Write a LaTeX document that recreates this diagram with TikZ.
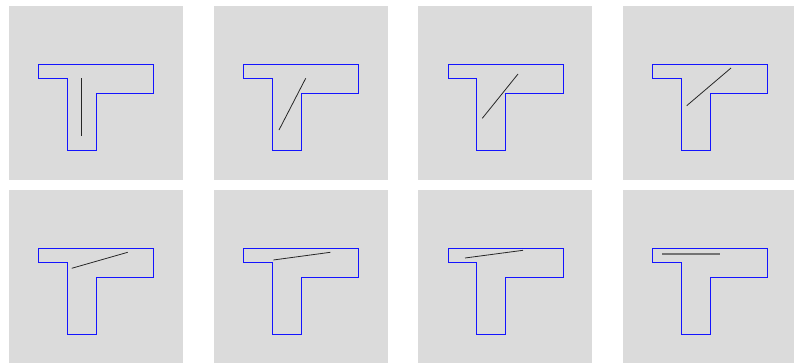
\documentclass[tikz,border=0pt]{standalone}
\definecolor{panelgray}{RGB}{219,219,219}
\definecolor{tblue}{RGB}{20,20,255}
\definecolor{rodgray}{RGB}{115,115,115}
\tikzset{
  panelbox/.style={fill=panelgray, draw=none},
  tee/.style={draw=tblue, line width=1pt, line join=miter},
  rod/.style={draw=black!85, line width=0.8pt},
  flatrod/.style={draw=rodgray, line width=1.6pt}
}
\begin{document}
\begin{tikzpicture}[x=1pt,y=-1pt]
\useasboundingbox (0,0) rectangle (794,362);
\foreach \ox/\oy/\ax/\ay/\bx/\by/\st in {
  9/6/72.3/72.3/72.3/130.3/rod,
  213.7/6/92/72.3/65.3/124/rod,
  418.3/6/99.7/68/64/112.3/rod,
  623/6/108/62/63.7/99.7/rod,
  9/190/118.7/62.3/62.7/78.3/rod,
  213.7/190/116.6/62.3/59.6/70/rod,
  418.3/190/104.7/60.3/46.7/68/rod,
  623/190/39/63.7/97.3/63.7/flatrod}{
  \begin{scope}[shift={(\ox,\oy)}]
    \fill[panelbox] (0,0) rectangle (174,174);
    \draw[tee] (29.7,58.3) -- (144.7,58.3) -- (144.7,87.3) -- (87.3,87.3)
      -- (87.3,144.7) -- (58.3,144.7) -- (58.3,72.7) -- (29.7,72.7) -- cycle;
    \coordinate (a) at (\ax,\ay);
    \coordinate (b) at (\bx,\by);
    \draw[\st] (a) -- (b);
  \end{scope}
}
\end{tikzpicture}
\end{document}
